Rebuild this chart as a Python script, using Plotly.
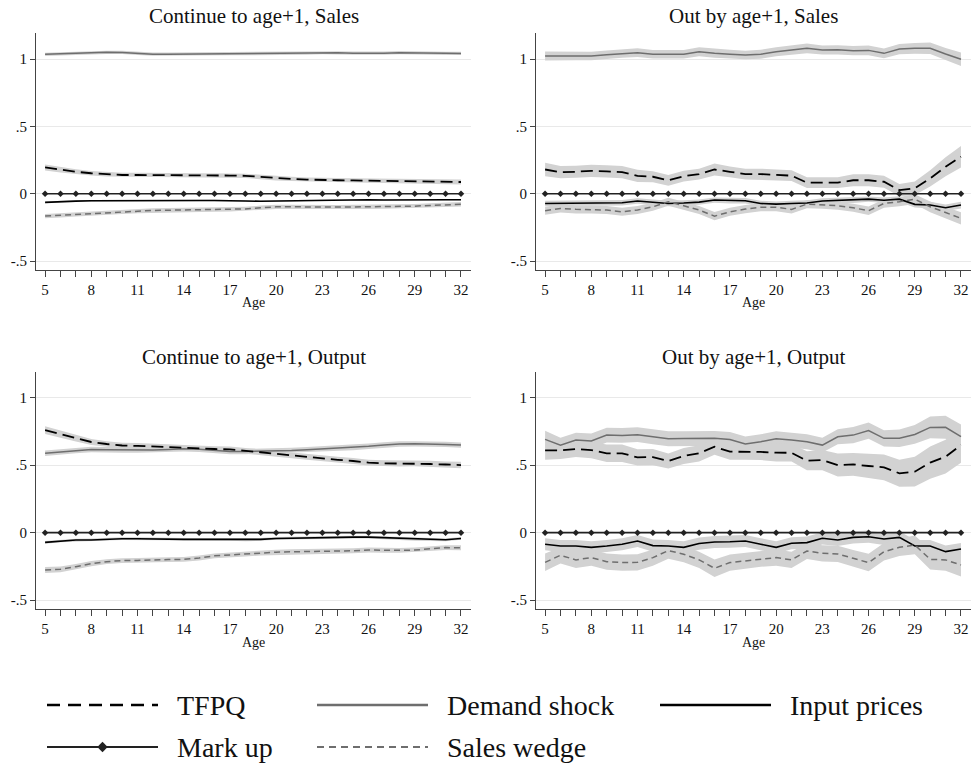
import plotly.graph_objects as go

FONT = "'Liberation Serif', 'Times New Roman', Times, 'DejaVu Serif', serif"

ages = list(range(5, 33))
tick_labels = [str(a) if (a - 5) % 3 == 0 else "" for a in ages]
y_ticks = [-0.5, 0, 0.5, 1]
y_tick_labels = ["-.5", "0", ".5", "1"]

# ---------- Continue to age+1, Sales ----------
cs_demand = [1.035, 1.040, 1.042, 1.046, 1.050, 1.049, 1.042, 1.036, 1.036, 1.037,
             1.038, 1.039, 1.040, 1.040, 1.040, 1.040, 1.041, 1.043, 1.048, 1.046,
             1.043, 1.041, 1.043, 1.047, 1.044, 1.044, 1.042, 1.041]
cs_tfpq = [0.195, 0.178, 0.163, 0.152, 0.144, 0.139, 0.139, 0.139, 0.139, 0.138,
           0.137, 0.136, 0.135, 0.133, 0.124, 0.114, 0.110, 0.105, 0.101, 0.100,
           0.099, 0.097, 0.096, 0.095, 0.094, 0.092, 0.089, 0.087]
cs_input = [-0.064, -0.058, -0.055, -0.052, -0.051, -0.050, -0.050, -0.050, -0.050, -0.050,
            -0.050, -0.050, -0.050, -0.054, -0.056, -0.054, -0.051, -0.048, -0.046, -0.045,
            -0.045, -0.045, -0.046, -0.047, -0.046, -0.045, -0.045, -0.045]
cs_wedge = [-0.166, -0.160, -0.152, -0.145, -0.139, -0.134, -0.129, -0.124, -0.122, -0.121,
            -0.120, -0.118, -0.116, -0.113, -0.104, -0.097, -0.097, -0.099, -0.100, -0.099,
            -0.098, -0.097, -0.096, -0.095, -0.092, -0.087, -0.082, -0.078]
cs_demand_ci = [0.012] * 28
cs_tfpq_ci = [0.022, 0.020, 0.018, 0.017, 0.016, 0.016, 0.016, 0.016, 0.016, 0.016,
              0.016, 0.016, 0.016, 0.016, 0.016, 0.016, 0.016, 0.016, 0.016, 0.016,
              0.016, 0.016, 0.016, 0.016, 0.016, 0.017, 0.017, 0.018]
cs_input_ci = [0.006] * 28
cs_wedge_ci = [0.016] * 28

# ---------- Out by age+1, Sales ----------
os_demand = [1.022, 1.022, 1.022, 1.022, 1.032, 1.042, 1.047, 1.035, 1.035, 1.035,
             1.054, 1.042, 1.036, 1.030, 1.035, 1.054, 1.067, 1.079, 1.067, 1.068,
             1.062, 1.064, 1.042, 1.074, 1.079, 1.080, 1.037, 0.998]
os_tfpq = [0.180, 0.160, 0.163, 0.170, 0.166, 0.160, 0.133, 0.126, 0.100, 0.130,
           0.146, 0.180, 0.163, 0.146, 0.146, 0.139, 0.134, 0.082, 0.082, 0.082,
           0.100, 0.100, 0.089, 0.027, 0.040, 0.114, 0.200, 0.275]
os_input = [-0.072, -0.072, -0.067, -0.070, -0.069, -0.067, -0.054, -0.064, -0.072, -0.069,
            -0.062, -0.047, -0.052, -0.052, -0.072, -0.077, -0.072, -0.069, -0.054, -0.050,
            -0.048, -0.040, -0.048, -0.040, -0.079, -0.084, -0.104, -0.084]
os_wedge = [-0.126, -0.109, -0.116, -0.116, -0.121, -0.134, -0.121, -0.097, -0.059, -0.089,
            -0.121, -0.166, -0.134, -0.114, -0.100, -0.100, -0.116, -0.077, -0.082, -0.089,
            -0.104, -0.126, -0.072, -0.059, -0.040, -0.097, -0.139, -0.183]
os_demand_ci = [0.033, 0.033, 0.032, 0.032, 0.032, 0.032, 0.033, 0.032, 0.032, 0.032,
                0.033, 0.033, 0.032, 0.032, 0.033, 0.034, 0.035, 0.036, 0.034, 0.035,
                0.035, 0.036, 0.036, 0.038, 0.040, 0.042, 0.045, 0.050]
os_tfpq_ci = [0.050, 0.045, 0.045, 0.045, 0.045, 0.045, 0.045, 0.040, 0.040, 0.040,
              0.040, 0.045, 0.040, 0.040, 0.040, 0.040, 0.040, 0.040, 0.040, 0.040,
              0.045, 0.045, 0.045, 0.045, 0.050, 0.060, 0.070, 0.080]
os_input_ci = [0.020, 0.020, 0.020, 0.020, 0.020, 0.020, 0.020, 0.020, 0.020, 0.020,
               0.020, 0.020, 0.020, 0.020, 0.020, 0.020, 0.020, 0.020, 0.020, 0.020,
               0.020, 0.020, 0.020, 0.022, 0.024, 0.025, 0.025, 0.025]
os_wedge_ci = [0.030, 0.030, 0.030, 0.030, 0.030, 0.030, 0.030, 0.030, 0.030, 0.030,
               0.030, 0.030, 0.030, 0.030, 0.030, 0.030, 0.030, 0.030, 0.030, 0.030,
               0.030, 0.032, 0.032, 0.034, 0.036, 0.040, 0.042, 0.045]

# ---------- Continue to age+1, Output ----------
co_demand = [0.588, 0.598, 0.608, 0.616, 0.615, 0.613, 0.612, 0.612, 0.617, 0.621,
             0.618, 0.610, 0.601, 0.601, 0.603, 0.605, 0.609, 0.615, 0.621, 0.626,
             0.630, 0.640, 0.650, 0.657, 0.658, 0.657, 0.654, 0.649]
co_tfpq = [0.760, 0.731, 0.699, 0.672, 0.657, 0.646, 0.643, 0.638, 0.631, 0.625,
           0.622, 0.620, 0.617, 0.608, 0.596, 0.584, 0.572, 0.562, 0.551, 0.540,
           0.531, 0.519, 0.514, 0.513, 0.514, 0.509, 0.505, 0.501]
co_input = [-0.072, -0.062, -0.055, -0.054, -0.049, -0.045, -0.045, -0.048, -0.050, -0.050,
            -0.050, -0.050, -0.051, -0.054, -0.050, -0.043, -0.040, -0.038, -0.037, -0.035,
            -0.033, -0.033, -0.037, -0.045, -0.050, -0.054, -0.053, -0.043]
co_wedge = [-0.277, -0.272, -0.252, -0.230, -0.215, -0.207, -0.206, -0.201, -0.200, -0.198,
            -0.188, -0.172, -0.164, -0.158, -0.152, -0.145, -0.142, -0.141, -0.139, -0.137,
            -0.134, -0.129, -0.131, -0.131, -0.129, -0.118, -0.111, -0.112]
co_demand_ci = [0.020] * 28
co_tfpq_ci = [0.028, 0.026, 0.024, 0.022, 0.021, 0.021, 0.021, 0.021, 0.021, 0.021,
              0.021, 0.021, 0.021, 0.021, 0.021, 0.021, 0.021, 0.021, 0.022, 0.022,
              0.022, 0.022, 0.022, 0.022, 0.022, 0.023, 0.023, 0.024]
co_input_ci = [0.010] * 28
co_wedge_ci = [0.022, 0.021, 0.020, 0.019, 0.018, 0.018, 0.018, 0.018, 0.018, 0.018,
               0.018, 0.018, 0.018, 0.018, 0.018, 0.018, 0.018, 0.018, 0.018, 0.018,
               0.018, 0.018, 0.018, 0.018, 0.018, 0.018, 0.018, 0.019]

# ---------- Out by age+1, Output ----------
oo_demand = [0.691, 0.649, 0.686, 0.679, 0.723, 0.721, 0.726, 0.711, 0.696, 0.697,
             0.698, 0.699, 0.691, 0.657, 0.674, 0.696, 0.686, 0.674, 0.649, 0.711,
             0.723, 0.756, 0.699, 0.700, 0.728, 0.780, 0.781, 0.711]
oo_tfpq = [0.610, 0.610, 0.620, 0.612, 0.588, 0.588, 0.558, 0.560, 0.531, 0.568,
           0.588, 0.637, 0.600, 0.600, 0.598, 0.593, 0.592, 0.533, 0.538, 0.501,
           0.506, 0.494, 0.484, 0.440, 0.452, 0.519, 0.563, 0.649]
oo_input = [-0.086, -0.099, -0.099, -0.109, -0.099, -0.086, -0.062, -0.096, -0.099, -0.109,
            -0.081, -0.069, -0.067, -0.062, -0.086, -0.109, -0.079, -0.074, -0.042, -0.054,
            -0.035, -0.030, -0.047, -0.035, -0.099, -0.099, -0.141, -0.121]
oo_wedge = [-0.220, -0.168, -0.202, -0.185, -0.215, -0.222, -0.220, -0.185, -0.133, -0.160,
            -0.202, -0.264, -0.222, -0.210, -0.193, -0.185, -0.202, -0.136, -0.153, -0.158,
            -0.190, -0.222, -0.141, -0.109, -0.091, -0.198, -0.202, -0.240]
oo_demand_ci = [0.065, 0.055, 0.055, 0.055, 0.055, 0.055, 0.055, 0.055, 0.055, 0.055,
                0.055, 0.055, 0.055, 0.055, 0.055, 0.055, 0.055, 0.055, 0.055, 0.055,
                0.060, 0.060, 0.060, 0.065, 0.070, 0.080, 0.085, 0.090]
oo_tfpq_ci = [0.070, 0.065, 0.060, 0.060, 0.065, 0.065, 0.060, 0.060, 0.055, 0.060,
              0.060, 0.060, 0.060, 0.060, 0.060, 0.065, 0.065, 0.070, 0.075, 0.085,
              0.085, 0.090, 0.095, 0.100, 0.110, 0.120, 0.125, 0.130]
oo_input_ci = [0.045] * 28
oo_wedge_ci = [0.065, 0.060, 0.060, 0.060, 0.060, 0.060, 0.060, 0.060, 0.060, 0.060,
               0.060, 0.065, 0.060, 0.060, 0.060, 0.060, 0.060, 0.060, 0.060, 0.060,
               0.062, 0.065, 0.065, 0.065, 0.070, 0.075, 0.080, 0.085]

mark_up = [0, 0, 0, 0, 0, 0, 0, 0, 0, 0, 0, 0, 0, 0,
           0, 0, 0, 0, 0, 0, 0, 0, 0, 0, 0, 0, 0, 0]

panels = [
    ("Continue to age+1, Sales", cs_demand, cs_tfpq, cs_input, cs_wedge,
     cs_demand_ci, cs_tfpq_ci, cs_input_ci, cs_wedge_ci),
    ("Out by age+1, Sales", os_demand, os_tfpq, os_input, os_wedge,
     os_demand_ci, os_tfpq_ci, os_input_ci, os_wedge_ci),
    ("Continue to age+1, Output", co_demand, co_tfpq, co_input, co_wedge,
     co_demand_ci, co_tfpq_ci, co_input_ci, co_wedge_ci),
    ("Out by age+1, Output", oo_demand, oo_tfpq, oo_input, oo_wedge,
     oo_demand_ci, oo_tfpq_ci, oo_input_ci, oo_wedge_ci),
]

# ---------- styling ----------
W, H = 972, 763
BAND = "#d2d2d2"
GREY = "#6e6e6e"
TFPQ_DASH = "12px,6px"
WEDGE_DASH = "6px,4px"

x_domains = [(36 / W, 471 / W), (536 / W, 971 / W)]
y_domains = [(1 - 270 / H, 1 - 33 / H), (1 - 609 / H, 1 - 371.7 / H)]
X_RANGE = [4.41, 32.65]
Y_RANGE = [-0.566, 1.193]

fig = go.Figure()
layout = dict(
    width=W, height=H,
    margin=dict(l=0, r=0, t=0, b=0),
    paper_bgcolor="white", plot_bgcolor="white",
    showlegend=False,
    font=dict(family=FONT, color="#111"),
)
annotations = []


def band(vals, ci, xa, ya):
    upper = [v + c for v, c in zip(vals, ci)]
    lower = [v - c for v, c in zip(vals, ci)]
    return go.Scatter(x=ages + ages[::-1], y=upper + lower[::-1],
                      fill="toself", fillcolor=BAND, mode="lines",
                      line=dict(width=0), hoverinfo="skip",
                      xaxis=xa, yaxis=ya)


for i, (title, dem, tfpq, inp, wed, dem_ci, tfpq_ci, inp_ci, wed_ci) in enumerate(panels):
    n = i + 1
    xa = "x" if n == 1 else f"x{n}"
    ya = "y" if n == 1 else f"y{n}"
    xd = x_domains[i % 2]
    yd = y_domains[i // 2]

    for vals, ci in ((dem, dem_ci), (tfpq, tfpq_ci), (inp, inp_ci), (wed, wed_ci)):
        fig.add_trace(band(vals, ci, xa, ya))

    fig.add_trace(go.Scatter(x=ages, y=dem, mode="lines", name="Demand shock",
                             line=dict(color=GREY, width=1.5), xaxis=xa, yaxis=ya))
    fig.add_trace(go.Scatter(x=ages, y=tfpq, mode="lines", name="TFPQ",
                             line=dict(color="black", width=1.8, dash=TFPQ_DASH),
                             xaxis=xa, yaxis=ya))
    fig.add_trace(go.Scatter(x=ages, y=inp, mode="lines", name="Input prices",
                             line=dict(color="black", width=1.6), xaxis=xa, yaxis=ya))
    fig.add_trace(go.Scatter(x=ages, y=wed, mode="lines", name="Sales wedge",
                             line=dict(color=GREY, width=1.5, dash=WEDGE_DASH),
                             xaxis=xa, yaxis=ya))
    fig.add_trace(go.Scatter(x=ages, y=mark_up, mode="lines+markers", name="Mark up",
                             line=dict(color="#222", width=1.6),
                             marker=dict(symbol="diamond", size=5, color="#222"),
                             xaxis=xa, yaxis=ya))

    xkey = "xaxis" if n == 1 else f"xaxis{n}"
    ykey = "yaxis" if n == 1 else f"yaxis{n}"
    layout[xkey] = dict(
        domain=list(xd), anchor=ya, range=X_RANGE,
        tickmode="array", tickvals=ages, ticktext=tick_labels,
        ticks="outside", ticklen=6, tickcolor="#444", tickwidth=1,
        showline=True, linecolor="#444", linewidth=1,
        showgrid=False, zeroline=False,
        tickfont=dict(family=FONT, size=15, color="#111"),
    )
    layout[ykey] = dict(
        domain=list(yd), anchor=xa, range=Y_RANGE,
        tickmode="array", tickvals=y_ticks, ticktext=y_tick_labels,
        ticks="outside", ticklen=5, tickcolor="#444", tickwidth=1,
        showline=True, linecolor="#444", linewidth=1,
        showgrid=True, gridcolor="#e9e9e9", gridwidth=1, zeroline=False,
        tickfont=dict(family=FONT, size=15, color="#111"),
    )

    xc = (xd[0] + xd[1]) / 2
    title_px = 16 if i < 2 else 356.7
    age_px = 302 if i < 2 else 642
    annotations.append(dict(text=title, x=xc, y=1 - title_px / H, xref="paper", yref="paper",
                            xanchor="center", yanchor="middle", showarrow=False,
                            font=dict(family=FONT, size=21, color="#111")))
    annotations.append(dict(text="Age", x=xc, y=1 - age_px / H, xref="paper", yref="paper",
                            xanchor="center", yanchor="middle", showarrow=False,
                            font=dict(family=FONT, size=14, color="#111")))

# ---------- legend (drawn on a hidden pixel-scaled axis) ----------
LEG_TOP = 648
layout["xaxis5"] = dict(domain=[0, 1], range=[0, W], visible=False, anchor="y5")
layout["yaxis5"] = dict(domain=[0, (H - LEG_TOP) / H], range=[H, LEG_TOP],
                        visible=False, anchor="x5")

legend_items = [
    ("TFPQ", 47, 705, dict(color="black", width=2.6, dash="13px,8px"), False),
    ("Demand shock", 317, 705, dict(color=GREY, width=2.4), False),
    ("Input prices", 660, 705, dict(color="black", width=2.7), False),
    ("Mark up", 47, 747, dict(color="#222", width=2.2), True),
    ("Sales wedge", 317, 747, dict(color=GREY, width=2.0, dash="7px,5px"), False),
]
KEY_LEN = 111
for label, x0, yk, line, diamond in legend_items:
    fig.add_trace(go.Scatter(x=[x0, x0 + KEY_LEN], y=[yk, yk], mode="lines",
                             line=line, hoverinfo="skip", xaxis="x5", yaxis="y5"))
    if diamond:
        fig.add_trace(go.Scatter(x=[x0 + KEY_LEN / 2], y=[yk], mode="markers",
                                 marker=dict(symbol="diamond", size=8, color="#222"),
                                 hoverinfo="skip", xaxis="x5", yaxis="y5"))
    annotations.append(dict(text=label, x=x0 + KEY_LEN + 17, y=yk, xref="x5", yref="y5",
                            xanchor="left", yanchor="middle", showarrow=False,
                            font=dict(family=FONT, size=28, color="#111")))

layout["annotations"] = annotations
fig.update_layout(**layout)
fig.write_html("out.html")
